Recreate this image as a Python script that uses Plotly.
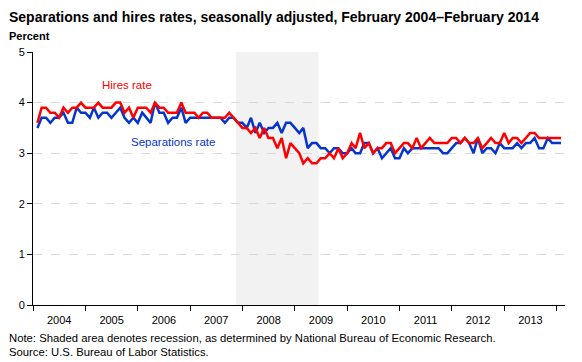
import plotly.graph_objects as go
import pandas as pd

# Monthly rates, Feb 2004 - Feb 2014 (percent)
hires_2004 = [3.6, 3.9, 3.9, 3.8, 3.8, 3.7, 3.9, 3.8, 3.9, 3.9, 4.0]
hires_2005 = [3.9, 3.9, 3.9, 4.0, 3.9, 3.9, 3.9, 4.0, 4.0, 3.8, 3.9, 3.7]
hires_2006 = [3.9, 3.9, 3.9, 3.8, 4.0, 3.9, 3.9, 3.8, 3.8, 3.8, 4.0, 3.8]
hires_2007 = [3.8, 3.8, 3.7, 3.8, 3.8, 3.7, 3.7, 3.7, 3.7, 3.8, 3.7, 3.6]
hires_2008 = [3.5, 3.5, 3.4, 3.5, 3.3, 3.5, 3.3, 3.3, 3.1, 3.3, 2.9, 3.2]
hires_2009 = [3.1, 3.0, 2.8, 2.9, 2.8, 2.8, 2.9, 2.9, 3.0, 2.9, 3.1, 2.9]
hires_2010 = [3.0, 3.2, 3.1, 3.4, 3.1, 3.2, 3.0, 3.1, 3.1, 3.2, 3.2, 3.0]
hires_2011 = [3.1, 3.2, 3.2, 3.1, 3.3, 3.1, 3.2, 3.3, 3.2, 3.2, 3.2, 3.2]
hires_2012 = [3.3, 3.3, 3.2, 3.3, 3.2, 3.2, 3.3, 3.1, 3.2, 3.3, 3.2, 3.2]
hires_2013 = [3.4, 3.2, 3.3, 3.3, 3.2, 3.3, 3.4, 3.4, 3.3, 3.3, 3.3, 3.3]
hires_2014 = [3.3, 3.3]

seps_2004 = [3.5, 3.7, 3.7, 3.6, 3.7, 3.7, 3.8, 3.6, 3.6, 3.9, 3.8]
seps_2005 = [3.8, 3.7, 3.9, 3.7, 3.8, 3.8, 3.7, 3.8, 3.9, 3.7, 3.6, 3.7]
seps_2006 = [3.6, 3.8, 3.7, 3.6, 4.0, 3.8, 3.8, 3.6, 3.7, 3.7, 3.9, 3.6]
seps_2007 = [3.7, 3.7, 3.7, 3.7, 3.7, 3.7, 3.7, 3.7, 3.6, 3.7, 3.7, 3.6]
seps_2008 = [3.6, 3.5, 3.7, 3.4, 3.6, 3.4, 3.5, 3.5, 3.6, 3.4, 3.6, 3.6]
seps_2009 = [3.5, 3.4, 3.5, 3.1, 3.2, 3.2, 3.1, 3.1, 3.0, 3.1, 3.1, 3.0]
seps_2010 = [3.0, 3.1, 3.0, 3.0, 3.2, 3.2, 3.0, 3.1, 2.9, 3.0, 3.1, 2.9]
seps_2011 = [2.9, 3.1, 3.0, 3.1, 3.1, 3.1, 3.1, 3.1, 3.1, 3.1, 3.0, 3.0]
seps_2012 = [3.1, 3.2, 3.2, 3.3, 3.2, 3.0, 3.3, 3.0, 3.1, 3.1, 3.0, 3.2]
seps_2013 = [3.1, 3.1, 3.1, 3.2, 3.1, 3.2, 3.2, 3.3, 3.1, 3.1, 3.3, 3.2]
seps_2014 = [3.2, 3.2]

hires = (hires_2004 + hires_2005 + hires_2006 + hires_2007 + hires_2008 + hires_2009
         + hires_2010 + hires_2011 + hires_2012 + hires_2013 + hires_2014)
seps = (seps_2004 + seps_2005 + seps_2006 + seps_2007 + seps_2008 + seps_2009
        + seps_2010 + seps_2011 + seps_2012 + seps_2013 + seps_2014)
months = pd.date_range("2004-02-01", periods=len(hires), freq="MS")

recession_start = "2007-11-16"
recession_end = "2009-06-16"

FONT = "Liberation Sans"
RED = "#FF0000"
BLUE = "#0535CC"

fig = go.Figure()
fig.add_shape(type="rect", xref="x", yref="paper", x0=recession_start, x1=recession_end,
              y0=0, y1=1, fillcolor="#F2F2F2", line=dict(width=0), layer="between")
fig.add_trace(go.Scatter(x=months, y=seps, mode="lines", name="Separations rate",
                         line=dict(color=BLUE, width=2.5)))
fig.add_trace(go.Scatter(x=months, y=hires, mode="lines", name="Hires rate",
                         line=dict(color=RED, width=2.5)))

fig.add_annotation(x="2005-10-20", y=4.35, text="Hires rate", showarrow=False,
                   font=dict(family=FONT, size=11.5, color=RED))
fig.add_annotation(x="2006-09-01", y=3.22, text="Separations rate", showarrow=False,
                   font=dict(family=FONT, size=11.5, color=BLUE))

fig.add_annotation(xref="paper", yref="paper", x=-26/532, y=1 + 35/253, xanchor="left",
                   yanchor="middle", showarrow=False,
                   text="<b>Separations and hires rates, seasonally adjusted, February 2004\u2013February 2014</b>",
                   font=dict(family=FONT, size=14, color="black"))
fig.add_annotation(xref="paper", yref="paper", x=-26/532, y=1 + 16/253, xanchor="left",
                   yanchor="middle", showarrow=False, text="<b>Percent</b>",
                   font=dict(family=FONT, size=11, color="black"))
fig.add_annotation(xref="paper", yref="paper", x=-26/532, y=-33/253, xanchor="left",
                   yanchor="middle", showarrow=False,
                   text="Note: Shaded area denotes recession, as determined by National Bureau of Economic Research.",
                   font=dict(family=FONT, size=11.3, color="black"))
fig.add_annotation(xref="paper", yref="paper", x=-26/532, y=-47/253, xanchor="left",
                   yanchor="middle", showarrow=False, text="Source: U.S. Bureau of Labor Statistics.",
                   font=dict(family=FONT, size=11.3, color="black"))

fig.update_layout(
    width=582, height=362,
    margin=dict(l=33, r=17, t=52, b=57),
    paper_bgcolor="white", plot_bgcolor="white",
    showlegend=False,
    font=dict(family=FONT, size=11, color="black"),
)
fig.update_xaxes(
    type="date", range=["2004-01-01", "2014-03-01"],
    tick0="2004-01-01", dtick="M12", tickformat="%Y", ticklabelmode="period",
    ticks="outside", ticklen=5, tickcolor="black", tickwidth=1,
    showline=True, linecolor="black", linewidth=1, showgrid=False, zeroline=False,
    tickfont=dict(family=FONT, size=11),
)
fig.update_yaxes(
    range=[0, 5], dtick=1, ticks="outside", ticklen=5, tickcolor="black",
    showline=True, linecolor="black", linewidth=1,
    showgrid=True, gridcolor="#D9D9D9", griddash="dash", gridwidth=1, zeroline=False,
    tickfont=dict(family=FONT, size=11),
)

fig.write_html("out.html", config={"displayModeBar": False},
               post_script="document.body.style.margin='0';")
